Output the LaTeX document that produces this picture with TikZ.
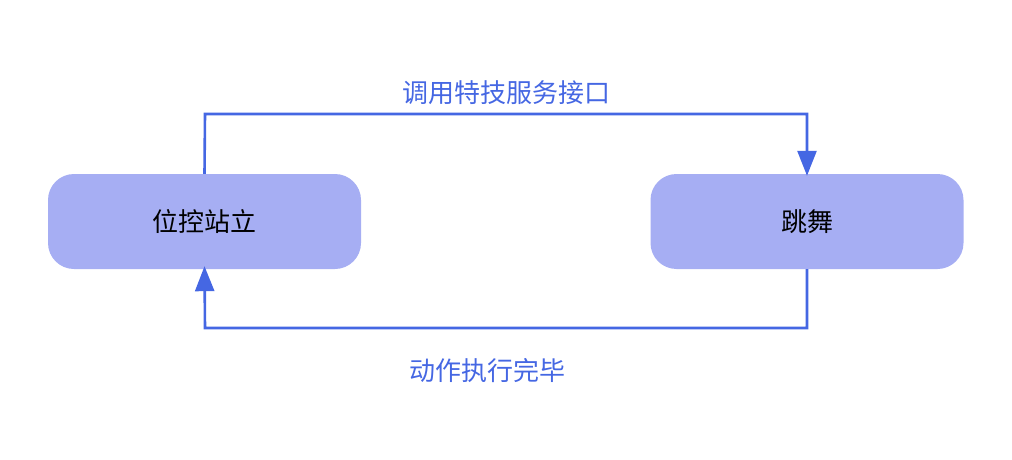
\documentclass[tikz,border=0pt]{standalone}
\usepackage{fontspec}
\setmainfont{Noto Sans CJK SC}
\usetikzlibrary{arrows.meta}
\definecolor{boxfill}{HTML}{A6AEF3}
\definecolor{linec}{HTML}{4567E3}
\tikzset{
  statebox/.style={draw=none, fill=boxfill, rounded corners=26pt, minimum width=313pt, minimum height=95pt, inner sep=0pt, font=\fontsize{26}{30}\selectfont},
  flow/.style={draw=linec, line width=2.6pt, -{Triangle[width=19pt,length=25pt]}},
  lbl/.style={text=linec, font=\fontsize{26}{30}\selectfont, inner sep=0pt}
}
\begin{document}
\begin{tikzpicture}[x=1pt,y=1pt]
\useasboundingbox (0,0) rectangle (1012,459);
\node[statebox] (a) at (204.5,237.5) {位控站立};
\node[statebox] (b) at (807,237.5) {跳舞};
\coordinate (t1) at (205,345);
\coordinate (t2) at (807,345);
\coordinate (b1) at (807,131);
\coordinate (b2) at (205,131);
\draw[flow] (a.north) -- (t1) -- (t2) -- ([yshift=-2pt]b.north);
\draw[flow] (b.south) -- (b1) -- (b2) -- ([yshift=3pt]a.south);
\node[lbl] (l1) at (506,366) {调用特技服务接口};
\node[lbl] (l2) at (487,88) {动作执行完毕};
\end{tikzpicture}
\end{document}
